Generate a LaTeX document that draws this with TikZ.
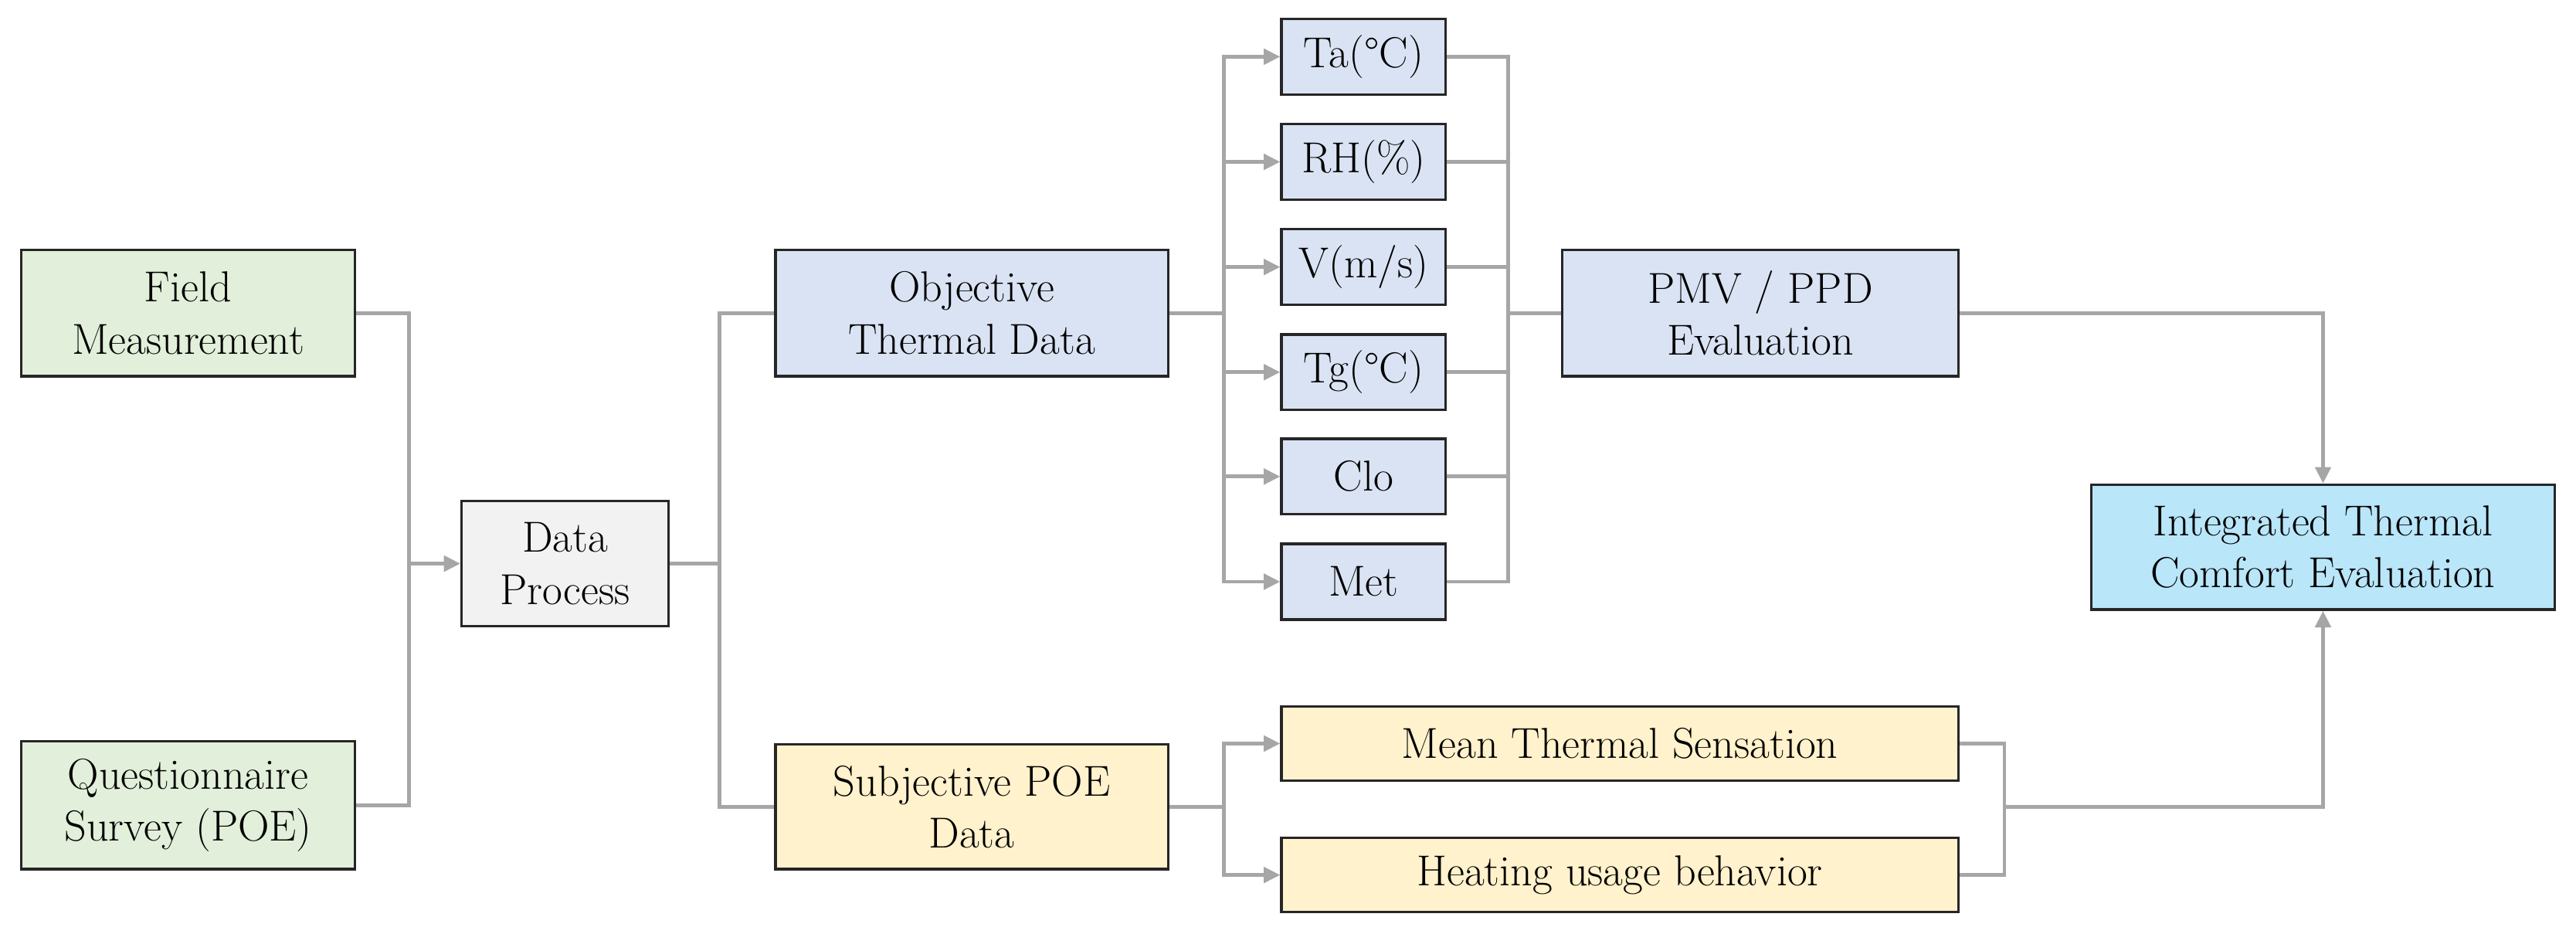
\documentclass[tikz,border=0pt]{standalone}
\usetikzlibrary{arrows.meta}
\definecolor{fgreen}{HTML}{E2EFDA}
\definecolor{fgray}{HTML}{F2F2F2}
\definecolor{fblue}{HTML}{DAE3F3}
\definecolor{fyellow}{HTML}{FFF2CC}
\definecolor{fcyan}{HTML}{B9E6F8}
\definecolor{lgray}{HTML}{A6A6A6}
\begin{document}
\begin{tikzpicture}[font=\fontsize{15}{18}\selectfont,
box/.style={draw=black!85,line width=0.9pt,align=center,inner sep=0pt},
ln/.style={draw=lgray,line width=1.25pt},
arr/.style={ln,-{Triangle[length=0.2cm,width=0.19cm]}}]
\useasboundingbox (0,0) rectangle (31.36,-11.36);

\node[box,fill=fgreen,minimum width=4.06cm,minimum height=1.54cm] (fm) at (2.29,-3.81) {Field\\Measurement};
\node[box,fill=fgreen,minimum width=4.06cm,minimum height=1.56cm] (qs) at (2.29,-9.80) {Questionnaire\\Survey (POE)};
\node[box,fill=fgray,minimum width=2.52cm,minimum height=1.52cm] (dp) at (6.88,-6.86) {Data\\Process};
\node[box,fill=fblue,minimum width=4.78cm,minimum height=1.54cm] (obj) at (11.83,-3.81) {Objective\\Thermal Data};
\node[box,fill=fyellow,minimum width=4.78cm,minimum height=1.52cm] (subj) at (11.83,-9.82) {Subjective POE\\Data};
\node[box,fill=fblue,minimum width=2cm,minimum height=0.92cm] (ta) at (16.60,-0.69) {Ta(°C)};
\node[box,fill=fblue,minimum width=2cm,minimum height=0.92cm] (rh) at (16.60,-1.97) {RH(\%)};
\node[box,fill=fblue,minimum width=2cm,minimum height=0.92cm] (v) at (16.60,-3.25) {V(m/s)};
\node[box,fill=fblue,minimum width=2cm,minimum height=0.92cm] (tg) at (16.60,-4.53) {Tg(°C)};
\node[box,fill=fblue,minimum width=2cm,minimum height=0.92cm] (clo) at (16.60,-5.80) {Clo};
\node[box,fill=fblue,minimum width=2cm,minimum height=0.92cm] (met) at (16.60,-7.08) {Met};
\node[box,fill=fblue,minimum width=4.82cm,minimum height=1.54cm] (pmv) at (21.43,-3.81) {PMV / PPD\\Evaluation};
\node[box,fill=fcyan,minimum width=5.64cm,minimum height=1.52cm] (ite) at (28.28,-6.66) {Integrated Thermal\\Comfort Evaluation};
\node[box,fill=fyellow,minimum width=8.24cm,minimum height=0.90cm] (mts) at (19.72,-9.05) {Mean Thermal Sensation};
\node[box,fill=fyellow,minimum width=8.24cm,minimum height=0.90cm] (hub) at (19.72,-10.65) {Heating usage behavior};

\coordinate (j1) at (4.98,-6.86);
\coordinate (j2) at (8.76,-6.86);
\coordinate (j3) at (14.90,-3.81);
\coordinate (j4) at (18.36,-3.81);
\coordinate (j5) at (14.90,-9.82);
\coordinate (j6) at (24.40,-9.82);

\draw[ln] (fm.east) -| (j1) |- (qs.east);
\draw[arr] (j1) -- (dp.west);
\draw[ln] (dp.east) -- (j2);
\draw[ln] (obj.west) -| (j2) |- (subj.west);
\draw[ln] (obj.east) -- (j3);
\foreach \n in {ta,rh,v,tg,clo,met} {
\draw[arr] (j3) |- (\n.west);
\draw[ln] (\n.east) -| (j4);
}
\draw[ln] (j4) -- (pmv.west);
\draw[arr] (pmv.east) -| (ite.north);
\draw[ln] (subj.east) -- (j5);
\draw[arr] (j5) |- (mts.west);
\draw[arr] (j5) |- (hub.west);
\draw[ln] (mts.east) -| (j6) |- (hub.east);
\draw[arr] (j6) -| (ite.south);
\end{tikzpicture}
\end{document}
